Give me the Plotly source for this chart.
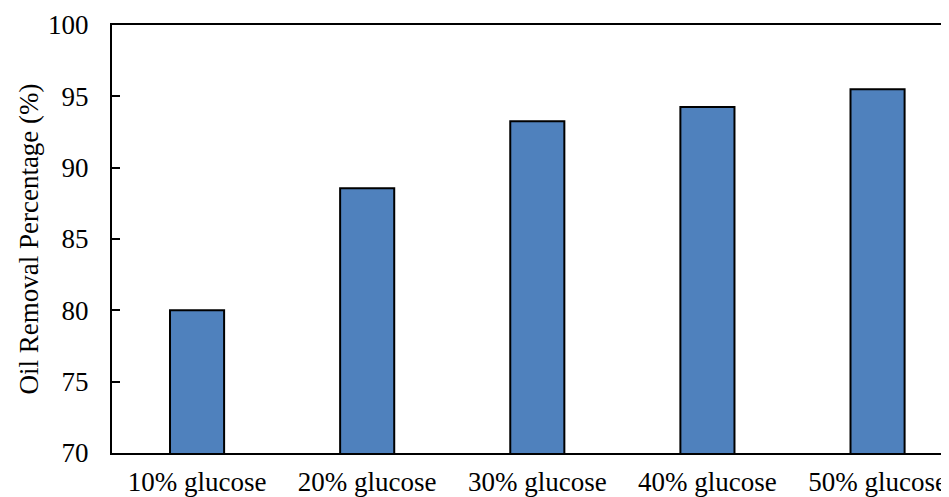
import plotly.graph_objects as go

categories = ["10% glucose", "20% glucose", "30% glucose", "40% glucose", "50% glucose"]
removal = [80.0, 88.55, 93.25, 94.25, 95.5]
y_ticks = [70, 75, 80, 85, 90, 95, 100]

FONT = "Liberation Serif, Times New Roman, serif"

fig = go.Figure(
    go.Bar(
        x=categories,
        y=removal,
        marker=dict(color="#4F81BD", line=dict(color="black", width=2)),
        width=0.318,
    )
)

# page body has an 8px margin, so the figure is sized/offset to compensate
fig.update_layout(
    width=941,
    height=489,
    margin=dict(l=104, r=0, t=17, b=44),
    paper_bgcolor="white",
    plot_bgcolor="white",
    showlegend=False,
    font=dict(family=FONT, size=27, color="black"),
)

fig.update_xaxes(
    range=[-0.5, 4.42],
    showline=True,
    linecolor="black",
    linewidth=2,
    mirror=True,
    ticks="",
    showgrid=False,
    tickfont=dict(size=27),
    ticklabelstandoff=4,
)

fig.update_yaxes(
    range=[70, 100],
    tickvals=y_ticks,
    showline=True,
    linecolor="black",
    linewidth=2,
    ticks="inside",
    ticklen=8,
    tickwidth=2,
    tickcolor="black",
    showgrid=False,
    zeroline=False,
    tickfont=dict(size=27),
    title=dict(text="Oil Removal Percentage (%)", font=dict(size=27), standoff=2),
    ticklabelstandoff=16,
)

fig.write_html("out.html")
